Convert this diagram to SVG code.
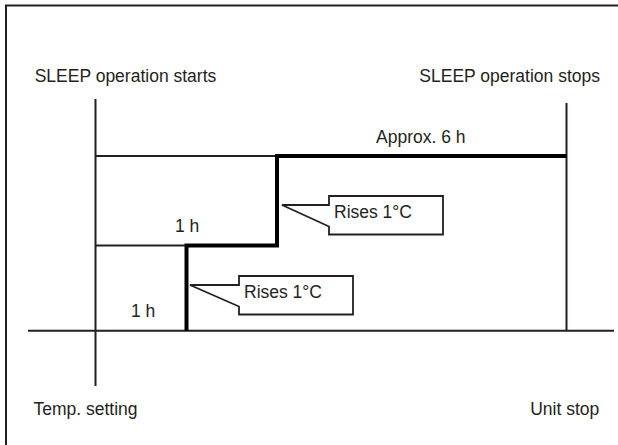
<svg xmlns="http://www.w3.org/2000/svg" width="618" height="445" viewBox="0 0 618 445">
<style>
text{font-family:"Liberation Sans",Arial,sans-serif;font-size:17.5px;fill:#231f20}
.thin{stroke:#231f20;stroke-width:2;fill:none}
.thick{stroke:#000;stroke-width:4;fill:none;stroke-linejoin:miter}
.callout{stroke:#231f20;stroke-width:1.8;fill:#fff;stroke-linejoin:miter}
</style>
<rect width="618" height="445" fill="#fff"/>
<path id="frame" class="thin" d="M6,445 V5.5 H618"/>
<g id="connectors">
<path class="thin" d="M95.5,99 V386"/>
<path class="thin" d="M566.5,103 V331"/>
<path class="thin" d="M28,330.7 H614"/>
<path class="thin" d="M95.5,156 H277"/>
<path class="thin" d="M95.5,245.5 H186"/>
<path class="thick" d="M186.5,331 V245.5 H277 V156 H566.5"/>
</g>
<g id="label-start"><text x="34.7" y="81.7">SLEEP operation starts</text></g>
<g id="label-stop"><text x="600" y="81.7" text-anchor="end">SLEEP operation stops</text></g>
<g id="label-6h"><text x="376" y="143">Approx. 6 h</text></g>
<g id="label-1h-upper"><text x="175" y="231.7">1 h</text></g>
<g id="label-1h-lower"><text x="131" y="316.7">1 h</text></g>
<g id="callout-upper">
<polygon class="callout" points="282,205 329,205 329,196 443,196 443,234.5 329,234.5 329,226.5"/>
<text x="334" y="218.3">Rises 1°C</text>
</g>
<g id="callout-lower">
<polygon class="callout" points="190,285 239,285 239,276 353,276 353,314.5 239,314.5 239,306.5"/>
<text x="244" y="298.3">Rises 1°C</text>
</g>
<g id="label-temp"><text x="33.5" y="415">Temp. setting</text></g>
<g id="label-unitstop"><text x="599.3" y="415" text-anchor="end">Unit stop</text></g>
</svg>
